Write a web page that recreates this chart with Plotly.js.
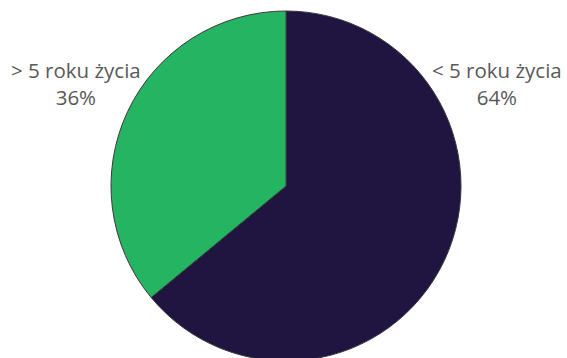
<!DOCTYPE html>
<html><head><meta charset="utf-8">
<script src="https://cdn.plot.ly/plotly-3.0.1.min.js"></script>
<style>html,body{margin:0;padding:0;overflow:hidden;background:#fff}</style>
</head><body><div id="chart" style="width:567px;height:362px"></div>
<script>
const labels = ["< 5 roku życia", "> 5 roku życia"];
const values = [64, 36];
const colors = ["#201441", "#24b462"];

const W = 567, H = 362;
const data = [{
  type: "pie",
  labels: labels,
  values: values,
  sort: false,
  direction: "clockwise",
  rotation: 0,
  textinfo: "none",
  hoverinfo: "none",
  marker: {colors: colors, line: {color: "#3a3a3a", width: 1}},
  domain: {x: [111/W, 461/W], y: [1/H, 351/H]},
  showlegend: false
}];
const total = values.reduce((a,b)=>a+b,0);
const pos = [{x: 497/W, y: (H-84)/H}, {x: 76/W, y: (H-84)/H}];
const annotations = labels.map((l,i)=>({
  text: l + "<br>" + Math.round(values[i]/total*100) + "%",
  x: pos[i].x, y: pos[i].y, xref: "paper", yref: "paper",
  xanchor: "center", yanchor: "middle", showarrow: false,
  font: {family: "Open Sans, sans-serif", size: 20.5, color: "#595959"},
  align: "center"
}));
Plotly.newPlot("chart", data, {
  width: W, height: H,
  margin: {l:0, r:0, t:0, b:0},
  paper_bgcolor: "#ffffff",
  annotations: annotations
}, {staticPlot: true});
</script></body></html>
